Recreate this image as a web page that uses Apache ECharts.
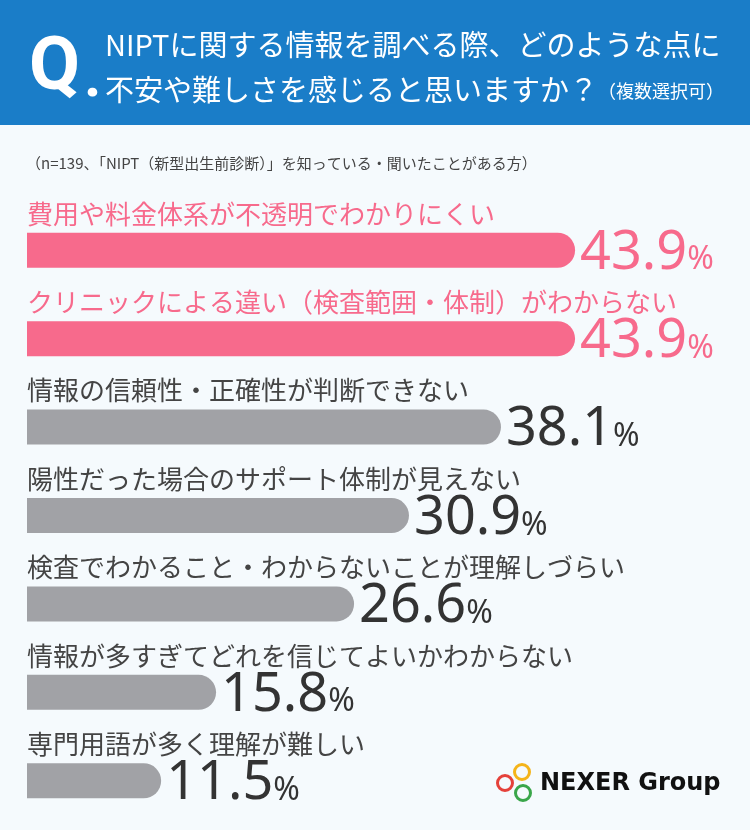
<!DOCTYPE html>
<html lang="ja">
<head>
<meta charset="UTF-8">
<script src="https://cdn.jsdelivr.net/npm/echarts@6/dist/echarts.min.js"></script>
<title>NIPT 情報の不安</title>
<style>
  html, body { margin: 0; padding: 0; background: #f5fafd; }
  #main { width: 750px; height: 830px; }
</style>
</head>
<body>
<div id="main"></div>
<script>
// data
var categories = [
  '費用や料金体系が不透明でわかりにくい',
  'クリニックによる違い（検査範囲・体制）がわからない',
  '情報の信頼性・正確性が判断できない',
  '陽性だった場合のサポート体制が見えない',
  '検査でわかること・わからないことが理解しづらい',
  '情報が多すぎてどれを信じてよいかわからない',
  '専門用語が多く理解が難しい'
];
var values = [43.9, 43.9, 38.1, 30.9, 26.6, 15.8, 11.5];

var questionLine1 = 'NIPTに関する情報を調べる際、どのような点に';
var questionLine2 = '不安や難しさを感じると思いますか？';
var questionNote = '（複数選択可）';
var sampleNote = '（n=139、「NIPT（新型出生前診断）」を知っている・聞いたことがある方）';
var brand = 'NEXER Group';

var PINK = '#f76a8c';
var GRAY = '#a1a2a6';
var JP = '"Noto Sans CJK JP", "Noto Sans", sans-serif';

var maxVal = Math.max.apply(null, values);
function isHot(v) { return v === maxVal; }

// bars with the % figure on the right
var barData = values.map(function (v) {
  var c = isHot(v) ? PINK : '#333';
  return {
    value: v,
    itemStyle: { color: isHot(v) ? PINK : GRAY },
    label: {
      rich: {
        v: { color: c, fontSize: 54, fontFamily: 'Noto Sans', verticalAlign: 'bottom', lineHeight: 54 },
        p: { color: c, fontSize: 32, fontFamily: 'Noto Sans', verticalAlign: 'bottom', lineHeight: 32, padding: [0, 0, 4, 0] }
      }
    }
  };
});

// same values again, invisible, only to carry the category name above each bar
var nameData = values.map(function (v) {
  return { value: v, label: { color: isHot(v) ? PINK : '#444' } };
});

var myChart = echarts.init(document.getElementById('main'));

var option = {
  backgroundColor: '#f5fafd',
  animation: false,
  grid: { left: 27, right: 97, top: 206, bottom: 5, containLabel: false },
  xAxis: {
    type: 'value',
    min: 1,
    max: 50,
    show: false
  },
  yAxis: {
    type: 'category',
    inverse: true,
    data: categories,
    axisLine: { show: false },
    axisTick: { show: false },
    splitLine: { show: false },
    axisLabel: { show: false }
  },
  series: [{
    type: 'bar',
    data: barData,
    barWidth: 35,
    itemStyle: { borderRadius: [0, 17.5, 17.5, 0] },
    label: {
      show: true,
      position: 'right',
      distance: 5,
      offset: [0, 3],
      formatter: function (p) { return '{v|' + p.value.toFixed(1) + '}{p|%}'; }
    }
  }, {
    type: 'bar',
    data: nameData,
    barWidth: 35,
    barGap: '-100%',
    silent: true,
    itemStyle: { color: 'rgba(0,0,0,0)' },
    label: {
      show: true,
      position: [0, -19],
      align: 'left',
      verticalAlign: 'middle',
      fontSize: 26,
      fontFamily: JP,
      formatter: function (p) { return p.name; }
    }
  }],
  graphic: [
    { type: 'rect', left: 0, top: 0, shape: { width: 750, height: 125 }, style: { fill: '#1a7dc8' }, z: -1 },
    { type: 'text', x: 29, y: 70, style: { text: 'Q', fill: '#fff', font: 'bold 74px Roboto', textVerticalAlign: 'middle' } },
    { type: 'text', x: 84, y: 81, style: { text: '.', fill: '#fff', font: 'bold 60px Roboto', textVerticalAlign: 'middle' } },
    { type: 'text', x: 105, y: 45, style: { text: questionLine1, fill: '#fff', font: '29px ' + JP, textVerticalAlign: 'middle' } },
    { type: 'text', x: 105, y: 87, style: {
        text: '{a|' + questionLine2 + '}{b|' + questionNote + '}',
        textVerticalAlign: 'middle',
        rich: {
          a: { fill: '#fff', fontSize: 29, fontFamily: JP, verticalAlign: 'bottom', lineHeight: 34 },
          b: { fill: '#fff', fontSize: 18, fontFamily: JP, verticalAlign: 'bottom', lineHeight: 24, padding: [0, 0, 4, 0] }
        }
      } },
    { type: 'text', x: 26, y: 163, style: { text: sampleNote, fill: '#444', font: '15px ' + JP, textVerticalAlign: 'middle' } },
    // logo
    { type: 'circle', shape: { cx: 522, cy: 772, r: 7.5 }, style: { fill: 'none', stroke: '#f4b41a', lineWidth: 3 } },
    { type: 'circle', shape: { cx: 505, cy: 783, r: 7.5 }, style: { fill: 'none', stroke: '#e5413a', lineWidth: 3 } },
    { type: 'circle', shape: { cx: 523, cy: 793, r: 7.5 }, style: { fill: 'none', stroke: '#3aa64a', lineWidth: 3 } },
    { type: 'text', x: 540, y: 784, style: { text: brand, fill: '#111', font: 'bold 24px "DejaVu Sans"', textVerticalAlign: 'middle' } }
  ]
};

myChart.setOption(option);
</script>
</body>
</html>
